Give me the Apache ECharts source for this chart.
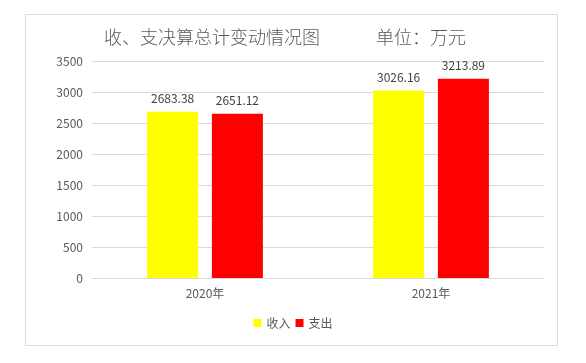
<!DOCTYPE html>
<html><head><meta charset="utf-8">
<script src="https://cdn.jsdelivr.net/npm/echarts@6/dist/echarts.min.js"></script>
<style>html,body{margin:0;padding:0;background:#fff}#c{width:586px;height:363px}</style>
</head><body><div id="c"></div>
<script>
const categories = ['2020年', '2021年'];
const incomeValues = [2683.38, 3026.16];
const expenseValues = [2651.12, 3213.89];
const seriesNames = ['收入', '支出'];
const titleMain = '收、支决算总计变动情况图';
const titleUnit = '单位：万元';

const font = '"Noto Sans CJK SC", "Microsoft YaHei", sans-serif';
const chart = echarts.init(document.getElementById('c'), null, {renderer: 'canvas'});
chart.setOption({
  animation: false,
  backgroundColor: '#fff',
  graphic: [{
    type: 'rect', shape: {x: 25.5, y: 14.5, width: 532, height: 331},
    style: {fill: 'none', stroke: '#d9d9d9', lineWidth: 1}, silent: true, z: -1
  }],
  title: [
    {text: titleMain, left: 99, top: 23, textStyle: {fontFamily: font, fontSize: 18, fontWeight: 300, color: '#595959'}},
    {text: titleUnit, left: 371, top: 23, textStyle: {fontFamily: font, fontSize: 18, fontWeight: 300, color: '#595959'}}
  ],
  legend: {
    data: seriesNames, bottom: 29, left: 'center', itemWidth: 8, itemHeight: 8, itemGap: 5,
    icon: 'rect', textStyle: {fontFamily: font, fontSize: 12, color: '#595959'}
  },
  grid: {left: 92, right: 42, top: 61, bottom: 85, containLabel: false},
  xAxis: {
    type: 'category', data: categories,
    axisLine: {lineStyle: {color: '#d9d9d9'}}, axisTick: {show: false},
    axisLabel: {color: '#595959', fontFamily: font, fontSize: 12, margin: 9}
  },
  yAxis: {
    type: 'value', min: 0, max: 3500, interval: 500,
    axisLine: {show: false}, axisTick: {show: false},
    splitLine: {lineStyle: {color: '#d9d9d9'}},
    axisLabel: {color: '#595959', fontFamily: font, fontSize: 12, margin: 9, formatter: v => String(v)}
  },
  series: [
    {name: seriesNames[0], type: 'bar', data: incomeValues, barWidth: 51, barGap: '27%',
     itemStyle: {color: '#FFFF00'},
     label: {show: true, position: 'top', distance: 7, color: '#404040', fontFamily: font, fontSize: 12}},
    {name: seriesNames[1], type: 'bar', data: expenseValues, barWidth: 51,
     itemStyle: {color: '#FF0000'},
     label: {show: true, position: 'top', distance: 7, color: '#404040', fontFamily: font, fontSize: 12}}
  ]
});
</script></body></html>
